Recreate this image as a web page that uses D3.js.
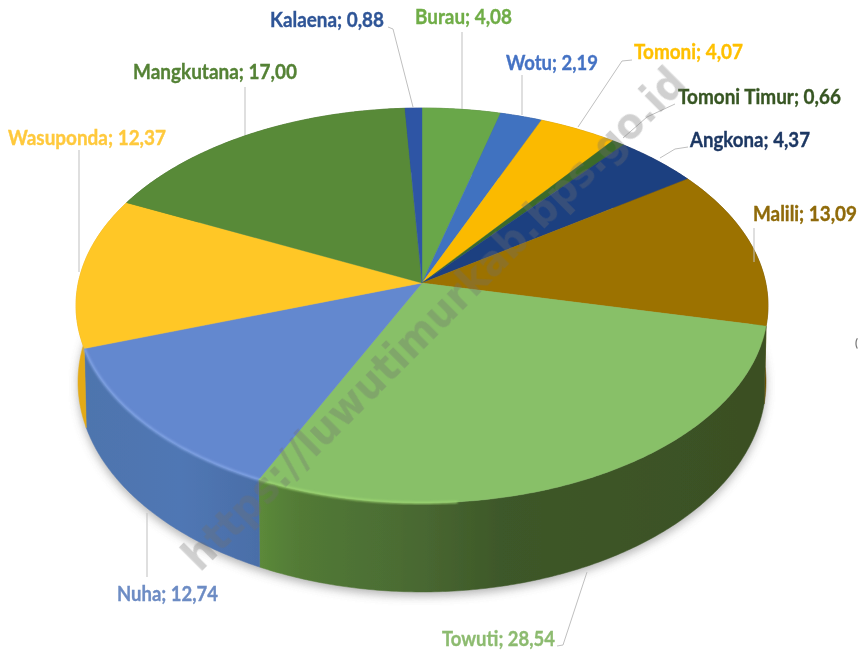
<!DOCTYPE html>
<html>
<head>
<meta charset="utf-8">
<script src="https://cdn.jsdelivr.net/npm/d3@7"></script>
<style>
html, body { margin: 0; padding: 0; background: #fff; }
svg { display: block; }
</style>
</head>
<body>
<div class="container"></div>
<script>
const wd = 864
const ht = 653

// data, clockwise from the top of the pie
const names = ["Burau", "Wotu", "Tomoni", "Tomoni Timur", "Angkona", "Malili", "Towuti", "Nuha", "Wasuponda", "Mangkutana", "Kalaena"]
const values = [4.08, 2.19, 4.07, 0.66, 4.37, 13.09, 28.54, 12.74, 12.37, 17.00, 0.88]

const topColors = ["#69a74a", "#3f72c0", "#fbba05", "#3a6b2c", "#1f4080", "#9c7200", "#88c068", "#6488cf", "#ffc728", "#588a38", "#2f55a5"]
const sideColors = ["#4f7d37", "#2f5590", "#bd8c04", "#2b5021", "#172f60", "#6b5000", "url(#towutiSide)", "url(#nuhaSide)", "#e4aa14", "#426829", "#234080"]
const textColors = ["#70ad47", "#4472c4", "#ffc000", "#375623", "#1f3864", "#8f6a08", "#8dbb70", "#6d8cc4", "#ffc93c", "#548235", "#2f5597"]

// label x, baseline y, text width
const labelPos = [
  [415, 24, 97], [506, 70, 92], [634, 59, 109], [678, 104, 163], [690, 147, 120], [753, 221, 104],
  [442, 646, 113], [117, 601, 101], [8, 145, 158], [133, 79, 164], [270, 27, 114]
]
const leaders = [
  [[462, 32], [462, 109]],
  [[522, 75], [522, 115]],
  [[632, 60], [622, 61], [578, 127]],
  [[675, 104], [647, 117], [623, 138]],
  [[688, 147], [675, 149], [660, 158]],
  [[754, 228], [754, 262]],
  [[557, 646], [563, 645], [587, 572]],
  [[147, 513], [147, 577]],
  [[79, 150], [79, 272]],
  [[245, 87], [245, 135]],
  [[388, 27], [393, 29], [413, 107]]
]

const svg = d3.select(".container").append("svg")
  .attr("width", wd)
  .attr("height", ht)
  .attr("viewBox", "0 0 " + wd + " " + ht)

const defs = svg.append("defs")
defs.append("filter").attr("id", "soft").attr("x", "-5%").attr("y", "-5%").attr("width", "110%").attr("height", "110%")
  .append("feGaussianBlur").attr("stdDeviation", 0.55)
defs.append("filter").attr("id", "shadow").attr("x", "-10%").attr("y", "-10%").attr("width", "120%").attr("height", "120%")
  .append("feGaussianBlur").attr("stdDeviation", 5)
defs.append("filter").attr("id", "glow").attr("x", "-5%").attr("y", "-5%").attr("width", "110%").attr("height", "110%")
  .append("feGaussianBlur").attr("stdDeviation", 1.2)

function sideGradient(id, stops) {
  const g = defs.append("linearGradient").attr("id", id)
    .attr("gradientUnits", "userSpaceOnUse")
    .attr("x1", stops[0][0]).attr("x2", stops[stops.length - 1][0]).attr("y1", 0).attr("y2", 0)
  const span = stops[stops.length - 1][0] - stops[0][0]
  stops.forEach(s => {
    g.append("stop").attr("offset", (s[0] - stops[0][0]) / span).attr("stop-color", s[1])
  })
}
sideGradient("towutiSide", [[258, "#5c8a3a"], [300, "#527a36"], [400, "#4b6c33"], [500, "#3e5829"], [768, "#3a4f23"]])
sideGradient("nuhaSide", [[84, "#4e74ad"], [180, "#5077b4"], [258, "#4a6ea8"]])

// the top face is a tilted circle, so the centre sits above the middle of the ellipse
const cx = 422, cy = 283
const tilt = 0.1139, bY = 194.9, aX = 343.75
function topPoint(t) {
  const u = Math.sin(t), v = Math.cos(t), w = 1 + tilt * v
  return [cx + aX * u / w, cy - bY * v / w]
}
// bottom rim, the same circle a bit lower and stretched
const bottomX = d3.scaleLinear().domain([76, 768]).range([78, 766])
const bottomY = d3.scaleLinear().domain([108, 503]).range([172, 592])
function bottomPoint(t) {
  const p = topPoint(t)
  return [bottomX(p[0]), bottomY(p[1])]
}

function arcAngles(a0, a1) {
  return d3.range(a0, a1, 0.01).concat([a1])
}

const pie = d3.pie().sort(null).startAngle(0).endAngle(2 * Math.PI)
const slices = pie(values)
const line = d3.line().curve(d3.curveLinear)

const root = svg.append("g").attr("filter", "url(#soft)")

// shadow under the pie
root.append("path")
  .attr("d", line(arcAngles(0, 2 * Math.PI).map(bottomPoint)) + "Z")
  .attr("transform", "translate(0,4)")
  .attr("fill", "#777")
  .attr("opacity", 0.55)
  .attr("filter", "url(#shadow)")

// side walls
root.append("g").selectAll("path")
  .data(slices)
  .join("path")
  .attr("d", d => {
    const angles = arcAngles(d.startAngle, d.endAngle)
    return line(angles.map(topPoint).concat(angles.slice().reverse().map(bottomPoint))) + "Z"
  })
  .attr("fill", (d, i) => sideColors[i])
  .attr("stroke", (d, i) => sideColors[i])
  .attr("stroke-width", 0.5)

// top face
root.append("g").selectAll("path")
  .data(slices)
  .join("path")
  .attr("d", d => line([[cx, cy]].concat(arcAngles(d.startAngle, d.endAngle).map(topPoint))) + "Z")
  .attr("fill", (d, i) => topColors[i])
  .attr("stroke", (d, i) => topColors[i])
  .attr("stroke-width", 0.4)

// light rim on the front edge, only on the lit left part
const rimColors = { "Towuti": "#a0da74", "Nuha": "#86a9ea" }
root.append("g").selectAll("path")
  .data(slices.filter((d, i) => rimColors[names[i]]))
  .join("path")
  .attr("d", d => line(arcAngles(Math.max(d.startAngle, 3.05), d.endAngle).map(topPoint)))
  .attr("fill", "none")
  .attr("stroke", d => rimColors[names[d.index]])
  .attr("stroke-width", 2)
  .attr("filter", "url(#glow)")

// leader lines
root.append("g").selectAll("path")
  .data(leaders)
  .join("path")
  .attr("d", d => line(d))
  .attr("fill", "none")
  .attr("stroke", "#bfbfbf")
  .attr("stroke-width", 1)

// labels
root.append("g").selectAll("text")
  .data(names)
  .join("text")
  .attr("x", (d, i) => labelPos[i][0])
  .attr("y", (d, i) => labelPos[i][1])
  .attr("textLength", (d, i) => labelPos[i][2])
  .attr("lengthAdjust", "spacingAndGlyphs")
  .attr("font-family", "Lato, 'Open Sans', sans-serif")
  .attr("font-weight", 700)
  .attr("font-size", 20)
  .attr("fill", (d, i) => textColors[i])
  .attr("stroke", (d, i) => textColors[i])
  .attr("stroke-width", 0.35)
  .text((d, i) => d + "; " + values[i].toFixed(2).replace(".", ","))

// stray mark at the right edge of the source picture
root.append("text")
  .attr("x", 855)
  .attr("y", 347)
  .attr("font-family", "Lato, sans-serif")
  .attr("font-size", 11)
  .attr("font-weight", 700)
  .attr("fill", "#777")
  .text("(")

// watermark
svg.append("text")
  .attr("transform", "translate(200,573) rotate(-45)")
  .attr("textLength", 690)
  .attr("lengthAdjust", "spacingAndGlyphs")
  .attr("font-family", "'DejaVu Sans', 'Liberation Sans', sans-serif")
  .attr("font-weight", 700)
  .attr("font-size", 42)
  .attr("fill", "#6f6f6f")
  .attr("opacity", 0.32)
  .attr("filter", "url(#soft)")
  .text("https://luwutimurkab.bps.go.id")
</script>
</body>
</html>
